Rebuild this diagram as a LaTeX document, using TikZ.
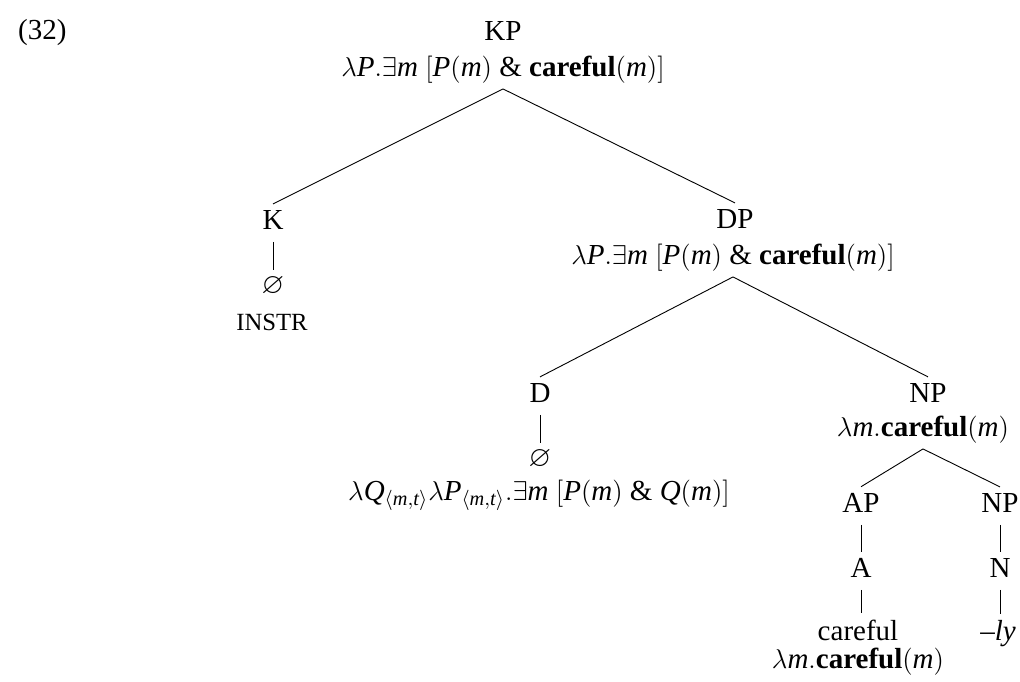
\documentclass[12pt,tikz,border=0pt]{standalone}
\usepackage{amsmath, amssymb}
\usepackage{fontspec}
\setmainfont{Liberation Serif}
\usepackage{tikz}
\usetikzlibrary{positioning}

\newcommand{\crfl}{\textbf{careful}}
\newcommand{\vP}{\mathit{P}}
\newcommand{\vQ}{\mathit{Q}}
\newcommand{\vm}{\mathit{m}}
\newcommand{\vt}{\mathit{t}}

\begin{document}
\begin{tikzpicture}[
  x=0.0155cm, y=-0.0155cm,
  font=\fontsize{12.8}{15.5}\selectfont,
  lbl/.style={anchor=base, inner sep=2.5pt},
  br/.style={line width=0.4pt},
  un/.style={line width=0.4pt, shorten <=3pt}
]
  \useasboundingbox (0,0) rectangle (1020,681);

  % Example number
  \node[lbl, anchor=base west] (num) at (12,39) {(32)};

  % Root
  \node[lbl] (kp) at (503,40) {KP};
  \node[lbl] (kpsem) at (503,76)
    {$\lambda\vP.\exists\vm\ [\vP(\vm)\ \&\ \crfl(\vm)]$};

  % K side
  \node[lbl] (k) at (273,229) {K};
  \node[lbl] (kzero) at (273,293) {$\varnothing$};
  \node[lbl, font=\fontsize{10.9}{13}\selectfont] (instr) at (272,330) {INSTR};

  % DP side
  \node[lbl] (dp) at (735,228) {DP};
  \node[lbl] (dpsem) at (733,264)
    {$\lambda\vP.\exists\vm\ [\vP(\vm)\ \&\ \crfl(\vm)]$};

  \node[lbl] (d) at (540,402) {D};
  \node[lbl] (dzero) at (540,466) {$\varnothing$};
  \node[lbl] (dsem) at (539,500)
    {$\lambda\vQ_{\langle\vm,\vt\rangle}\lambda\vP_{\langle\vm,\vt\rangle}.\exists\vm\ [\vP(\vm)\ \&\ \vQ(\vm)]$};

  \node[lbl] (np) at (928,402) {NP};
  \node[lbl] (npsem) at (923,436) {$\lambda\vm.\crfl(\vm)$};

  \node[lbl] (ap) at (861,512) {AP};
  \node[lbl] (nptwo) at (1000,512) {NP};
  \node[lbl] (a) at (861,577) {A};
  \node[lbl] (n) at (1000,577) {N};
  \node[lbl] (adj) at (858,640) {careful};
  \node[lbl] (ly) at (998,640) {\textit{--ly}};
  \node[lbl] (adjsem) at (858,668) {$\lambda\vm.\crfl(\vm)$};

  % Branches
  \draw[br] (kpsem.south) -- (k.north);
  \draw[br] (kpsem.south) -- (dp.north);
  \draw[br] (dpsem.south) -- (d.north);
  \draw[br] (dpsem.south) -- (np.north);
  \draw[br] (npsem.south) -- (ap.north);
  \draw[br] (npsem.south) -- (nptwo.north);

  % Unary lines
  \draw[un] (k.south) -- (kzero.north);
  \draw[un] (d.south) -- (dzero.north);
  \draw[un] (ap.south) -- (a.north);
  \draw[un] (nptwo.south) -- (n.north);
  \draw[un] (a.south) -- (a.south |- adj.north);
  \draw[un] (n.south) -- (n.south |- ly.north);
\end{tikzpicture}
\end{document}
